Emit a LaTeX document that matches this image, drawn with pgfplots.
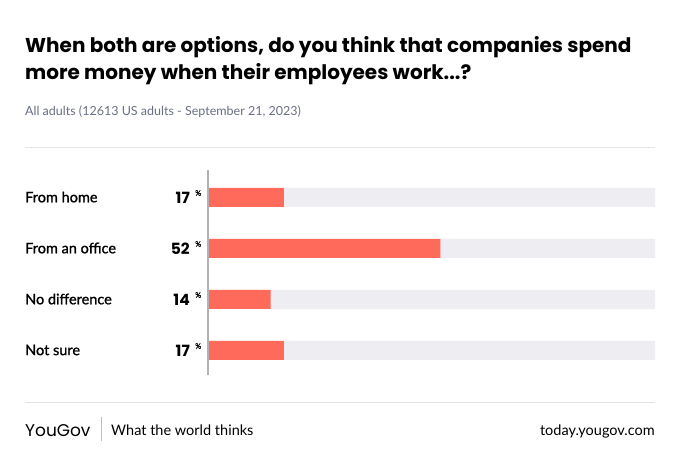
\documentclass[border=0pt]{standalone}
\usepackage{pgfplots}
\pgfplotsset{compat=1.18}
\usepackage{fontspec}
\setmainfont{Lato}
\newfontfamily\titlefont{Poppins}
\newfontfamily\labelfont[FakeBold=1.2]{Lato}
\definecolor{bar}{HTML}{FF6A5B}
\definecolor{bg}{HTML}{EEEDF2}
\definecolor{sub}{HTML}{6B6F86}
\definecolor{rule}{HTML}{E3E3E3}
\begin{document}
\begin{tikzpicture}
\fill[white] (0pt,0pt) rectangle (680pt,471pt);
\node[anchor=base west,inner sep=0,font=\titlefont\bfseries\fontsize{20}{22}\selectfont] at (25pt,418pt) {When both are options, do you think that companies spend};
\node[anchor=base west,inner sep=0,font=\titlefont\bfseries\fontsize{20}{22}\selectfont] at (25pt,391pt) {more money when their employees work...?};
\node[anchor=base west,inner sep=0,text=sub,font=\fontsize{12.5}{14}\selectfont] at (25pt,355pt) {All adults (12613 US adults - September 21, 2023)};
\draw[rule] (25pt,324pt) -- (655pt,324pt);
\begin{axis}[at={(208pt,299pt)},anchor=north west,scale only axis,width=447pt,height=204pt,
 xmin=0,xmax=100,ymin=0.5,ymax=4.5,y dir=reverse,axis lines=none,
 xbar,bar width=19pt,bar shift=0pt,clip=false]
\addplot[fill=bg,draw=none] coordinates {(100,1)(100,2)(100,3)(100,4)};
\addplot[fill=bar,draw=none] coordinates {(17,1)(52,2)(14,3)(17,4)};
\end{axis}
\draw[gray!60,line width=1.2pt] (208pt,96pt) -- (208pt,301pt);
\foreach \y/\l/\v in {274/From home/17,223/From an office/52,172/No difference/14,121/Not sure/17}{
 \node[anchor=west,inner sep=0,font=\labelfont\fontsize{14.5}{16}\selectfont] at (25pt,\y pt) {\l};
 \node[anchor=east,inner sep=0,font=\titlefont\bfseries\fontsize{15.5}{16}\selectfont] at (190pt,\y pt-1pt) {\v};
 \node[anchor=west,inner sep=0,font=\labelfont\fontsize{7.5}{8}\selectfont] at (195pt,\y pt+4pt) {\%};
}
\draw[rule] (25pt,69pt) -- (655pt,69pt);
\node[anchor=base west,font=\titlefont\fontsize{17}{18}\selectfont,inner sep=0] at (25pt,34pt) {YouGov};
\draw[gray!50] (101pt,30pt) -- (101pt,54pt);
\node[anchor=base west,font=\fontsize{14.5}{16}\selectfont,inner sep=0] at (111pt,35pt) {What the world thinks};
\node[anchor=base east,font=\fontsize{14.5}{16}\selectfont,inner sep=0] at (655pt,35pt) {today.yougov.com};
\end{tikzpicture}
\end{document}
